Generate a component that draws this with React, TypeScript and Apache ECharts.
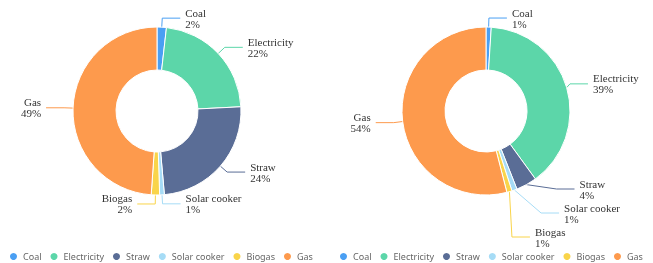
import React, { useEffect, useRef } from "react";
import * as echarts from "echarts";

const categories = ["Coal", "Electricity", "Straw", "Solar cooker", "Biogas", "Gas"];
const leftValues = [1.8, 22.4, 24.4, 0.9, 1.6, 48.9];
const rightValues = [1, 39, 4, 1, 1, 54];
const colors = ["#4a9ff3", "#5cd6a9", "#5a6d96", "#a6dcf6", "#f9d44a", "#fd9a4d"];

function makeSeries(values: number[], cx: number) {
  return {
    type: "pie",
    left: 0,
    top: 0,
    width: 653,
    height: 249,
    center: [cx, 111],
    radius: [41, 84],
    percentPrecision: 0,
    itemStyle: { borderColor: "#fff", borderWidth: 1 },
    label: {
      formatter: "{b}\n{d}%",
      fontFamily: "Liberation Serif",
      fontSize: 11,
      lineHeight: 11,
      color: "#333",
    },
    labelLine: { length: 9, length2: 18, lineStyle: { width: 1 } },
    data: categories.map((name, i) => ({ name, value: values[i] })),
  };
}

export default function App() {
  const ref = useRef<HTMLDivElement>(null);
  useEffect(() => {
    const chart = echarts.init(ref.current!, null, { renderer: "svg" });
    const legendBase = {
      top: 246,
      width: 315,
      icon: "circle",
      itemWidth: 9,
      itemHeight: 9,
      itemGap: 7,
      textStyle: { fontFamily: "Noto Sans", fontSize: 9, color: "#666" },
      data: categories,
    };
    chart.setOption({
      animation: false,
      color: colors,
      legend: [
        { ...legendBase, left: 3 },
        { ...legendBase, left: 333 },
      ],
      series: [makeSeries(leftValues, 157), makeSeries(rightValues, 486)],
    });
    return () => chart.dispose();
  }, []);
  return (
    <div
      ref={ref}
      style={{ position: "fixed", left: 0, top: 0, width: 653, height: 263 }}
    />
  );
}
